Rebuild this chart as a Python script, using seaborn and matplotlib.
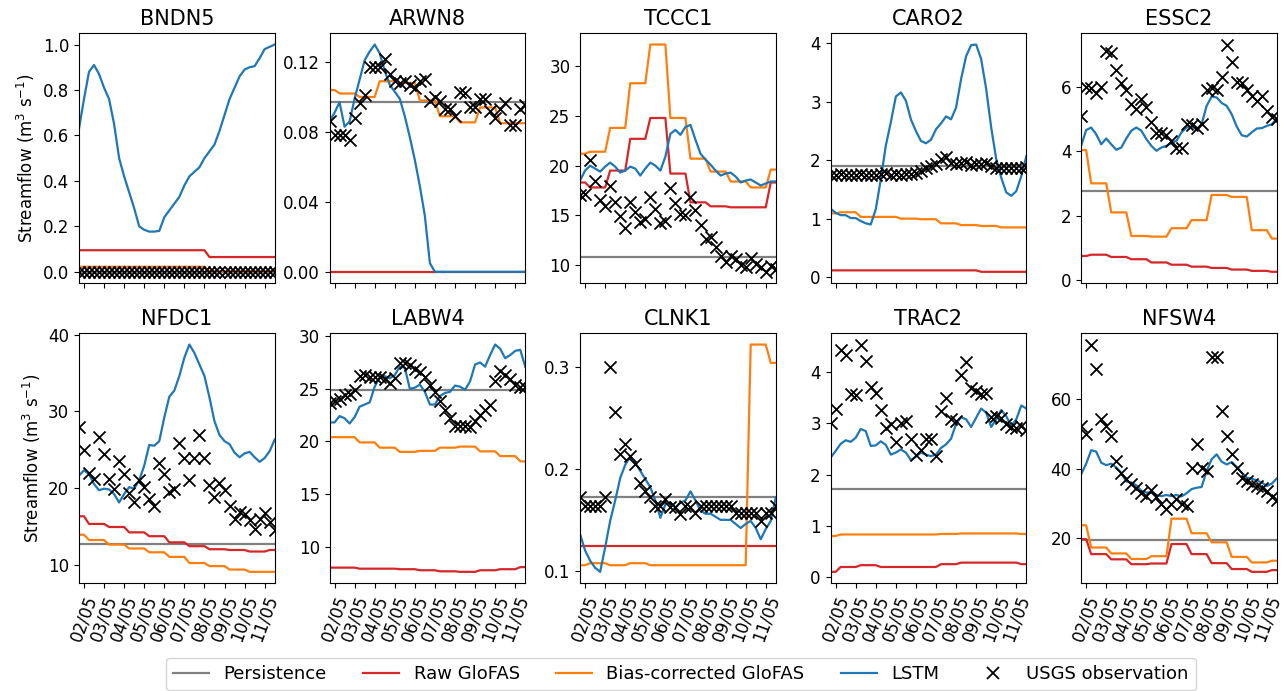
import numpy as np
import pandas as pd
import matplotlib
matplotlib.use('Agg')
import matplotlib.pyplot as plt
import matplotlib.dates as mdates
from matplotlib.lines import Line2D
import seaborn as sns

# 6-hourly forecast steps, GloFAS is daily
times = pd.date_range('2021-05-01 18:00', periods=40, freq='6h')
day_repeats = [2] + [4] * 9 + [2]

stations = ['BNDN5', 'ARWN8', 'TCCC1', 'CARO2', 'ESSC2',
            'NFDC1', 'LABW4', 'CLNK1', 'TRAC2', 'NFSW4']

# ---- BNDN5
bndn5_lstm = [0.63, 0.76, 0.88, 0.91, 0.87, 0.81, 0.76, 0.65, 0.50, 0.42, 0.35, 0.28, 0.20, 0.185, 0.177, 0.177,
              0.18, 0.24, 0.27, 0.30, 0.33, 0.38, 0.42, 0.44, 0.46, 0.50, 0.53, 0.56, 0.62, 0.69, 0.76, 0.81,
              0.86, 0.89, 0.90, 0.905, 0.94, 0.98, 0.99, 1.0]
bndn5_obs = [0.0, 0.0, 0.0, 0.0, 0.0, 0.0, 0.0, 0.0, 0.0, 0.0, 0.0, 0.0, 0.0, 0.0, 0.0, 0.0, 0.0, 0.0, 0.0, 0.0,
             0.0, 0.0, 0.0, 0.0, 0.0, 0.0, 0.0, 0.0, 0.0, 0.0, 0.0, 0.0, 0.0, 0.0, 0.0, 0.0, 0.0, 0.0, 0.0, 0.0]
bndn5_raw = [0.095, 0.095, 0.095, 0.095, 0.095, 0.095, 0.095, 0.065, 0.065, 0.065, 0.065]
bndn5_bias = [0.022, 0.022, 0.022, 0.022, 0.022, 0.022, 0.022, 0.003, 0.003, 0.003, 0.003]
bndn5_persist = 0.0

# ---- ARWN8
arwn8_lstm = [0.086, 0.091, 0.097, 0.083, 0.086, 0.099, 0.110, 0.121, 0.126, 0.130, 0.125, 0.115, 0.107, 0.103,
              0.099, 0.089, 0.077, 0.064, 0.049, 0.032, 0.005, 0.0, 0.0, 0.0, 0.0, 0.0, 0.0, 0.0, 0.0, 0.0,
              0.0, 0.0, 0.0, 0.0, 0.0, 0.0, 0.0, 0.0, 0.0, 0.0]
arwn8_obs = [0.086, 0.0785, 0.0785, 0.0785, 0.0756, 0.088, 0.0965, 0.101, 0.117, 0.117, 0.117, 0.122, 0.113,
             0.109, 0.108, 0.109, 0.107, 0.105, 0.109, 0.110, 0.0975, 0.100, 0.0975, 0.093, 0.093, 0.089, 0.103,
             0.102, 0.0945, 0.0945, 0.099, 0.099, 0.092, 0.088, 0.093, 0.0965, 0.084, 0.084, 0.093, 0.0955]
arwn8_raw = [0.0, 0.0, 0.0, 0.0, 0.0, 0.0, 0.0, 0.0, 0.0, 0.0, 0.0]
arwn8_bias = [0.104, 0.102, 0.100, 0.109, 0.108, 0.098, 0.089, 0.0855, 0.094, 0.085, 0.085]
arwn8_persist = 0.097

# ---- TCCC1
tccc1_lstm = [18.5, 19.5, 20.0, 19.7, 19.4, 19.9, 20.3, 19.9, 19.3, 19.5, 19.9, 19.7, 19.0, 19.7, 20.3, 20.0,
              19.5, 20.9, 23.2, 23.6, 23.1, 23.9, 24.1, 22.6, 21.2, 20.6, 20.1, 19.5, 19.0, 19.2, 19.3, 18.9,
              18.3, 18.5, 18.6, 18.3, 18.0, 18.2, 18.4, 18.4]
tccc1_obs = [17.0, 17.1, 20.6, 18.5, 16.5, 15.9, 17.9, 16.3, 14.9, 13.7, 16.3, 15.3, 14.3, 14.6, 16.8, 15.6,
             14.2, 14.4, 17.7, 16.2, 15.1, 15.0, 16.8, 15.5, 14.0, 12.6, 12.8, 11.8, 10.9, 10.3, 10.9, 10.6,
             10.0, 9.8, 10.7, 10.1, 9.8, 9.3, 9.9, 9.6]
tccc1_raw = [18.3, 17.8, 19.5, 22.7, 24.8, 19.2, 16.3, 15.9, 15.8, 15.8, 18.3]
tccc1_bias = [21.2, 21.4, 23.8, 28.3, 32.2, 24.8, 20.7, 19.4, 18.4, 17.8, 19.6]
tccc1_persist = 10.8

# ---- CARO2
caro2_lstm = [1.17, 1.10, 1.06, 1.06, 1.01, 1.01, 0.96, 0.92, 0.90, 1.16, 1.67, 2.25, 2.65, 3.09, 3.16, 3.02,
              2.70, 2.50, 2.33, 2.29, 2.35, 2.53, 2.63, 2.75, 2.70, 2.90, 3.39, 3.78, 3.97, 3.98, 3.73, 3.22,
              2.56, 2.02, 1.70, 1.45, 1.39, 1.47, 1.73, 2.07]
caro2_obs = [1.75, 1.74, 1.76, 1.75, 1.74, 1.75, 1.76, 1.75, 1.74, 1.75, 1.76, 1.78, 1.75, 1.76, 1.75, 1.76,
             1.76, 1.78, 1.82, 1.87, 1.90, 1.93, 2.02, 2.05, 1.96, 1.93, 1.96, 1.97, 1.91, 1.93, 1.93, 1.95,
             1.90, 1.87, 1.87, 1.87, 1.86, 1.87, 1.87, 1.88]
caro2_raw = [0.115, 0.115, 0.115, 0.115, 0.115, 0.115, 0.115, 0.115, 0.09, 0.09, 0.09]
caro2_bias = [1.09, 1.11, 1.03, 1.03, 1.00, 0.99, 0.92, 0.89, 0.875, 0.85, 0.85]
caro2_persist = 1.90

# ---- ESSC2
essc2_lstm = [4.16, 4.65, 4.73, 4.52, 4.21, 4.39, 4.21, 4.04, 4.11, 4.39, 4.63, 4.73, 4.63, 4.37, 4.16, 4.01,
              4.11, 4.16, 4.25, 4.32, 4.58, 4.73, 4.76, 4.68, 4.83, 5.40, 5.69, 5.66, 5.49, 5.40, 5.14, 4.76,
              4.49, 4.45, 4.58, 4.70, 4.71, 4.78, 4.83, 5.01]
essc2_obs = [5.1, 6.0, 5.95, 5.8, 6.0, 7.1, 7.05, 6.5, 6.1, 5.9, 5.45, 5.3, 5.6, 5.35, 4.9, 4.55, 4.55, 4.5,
             4.3, 4.1, 4.1, 4.85, 4.8, 4.7, 4.85, 5.9, 5.95, 5.9, 6.3, 7.3, 6.75, 6.15, 6.1, 5.9, 5.7, 5.55,
             5.7, 5.25, 5.05, 5.0]
essc2_raw = [0.75, 0.79, 0.72, 0.65, 0.55, 0.48, 0.42, 0.38, 0.33, 0.29, 0.26]
essc2_bias = [4.03, 3.0, 2.10, 1.37, 1.35, 1.61, 1.86, 2.64, 2.58, 1.55, 1.29]
essc2_persist = 2.77

# ---- NFDC1
nfdc1_lstm = [21.6, 22.3, 21.8, 20.5, 19.7, 19.9, 19.8, 19.2, 18.1, 19.2, 20.1, 19.9, 21.0, 22.9, 25.6, 25.5,
              26.1, 29.2, 31.9, 32.7, 34.6, 37.0, 38.7, 37.6, 36.1, 34.6, 31.8, 28.7, 26.9, 26.1, 25.7, 24.6,
              24.0, 24.5, 24.7, 24.0, 23.4, 23.9, 24.8, 26.3]
nfdc1_obs = [27.9, 24.9, 22.0, 21.2, 26.6, 24.4, 21.2, 19.8, 23.5, 21.8, 19.3, 18.1, 21.0, 20.1, 18.6, 17.6,
             23.2, 21.8, 19.4, 19.8, 25.9, 23.9, 21.0, 23.9, 26.9, 23.9, 20.4, 18.8, 20.6, 19.7, 17.7, 16.0,
             16.8, 16.6, 15.8, 14.7, 16.0, 16.7, 15.5, 14.5]
nfdc1_raw = [16.3, 15.3, 14.9, 14.2, 13.7, 12.9, 12.4, 12.0, 11.9, 11.7, 11.9]
nfdc1_bias = [13.9, 13.2, 12.6, 12.1, 11.6, 11.0, 10.2, 9.8, 9.35, 9.05, 9.05]
nfdc1_persist = 12.7

# ---- LABW4
labw4_lstm = [21.8, 21.8, 22.4, 22.2, 21.7, 22.3, 23.3, 23.5, 23.7, 25.2, 26.1, 26.2, 26.0, 26.3, 27.1, 27.0,
              25.0, 25.1, 25.4, 24.7, 23.5, 23.5, 24.3, 24.6, 24.7, 25.3, 25.2, 24.9, 25.7, 27.3, 27.5, 27.1,
              28.2, 29.2, 28.8, 27.9, 28.2, 28.6, 28.7, 27.1]
labw4_obs = [23.6, 23.8, 24.0, 24.4, 24.5, 24.9, 26.2, 26.3, 26.1, 26.1, 26.1, 25.9, 25.5, 26.0, 27.4, 27.4,
             27.3, 26.9, 26.6, 26.1, 25.4, 24.7, 23.8, 23.0, 22.2, 21.5, 21.5, 21.5, 21.4, 21.9, 22.5, 23.0,
             23.5, 25.7, 26.7, 26.3, 25.9, 25.4, 25.2, 25.2]
labw4_raw = [8.0, 8.0, 7.9, 7.9, 7.85, 7.75, 7.65, 7.6, 7.75, 7.85, 8.05]
labw4_bias = [20.4, 20.4, 19.9, 19.4, 19.0, 19.1, 19.4, 19.5, 19.05, 18.6, 18.1]
labw4_persist = 24.9

# ---- CLNK1
clnk1_lstm = [0.136, 0.120, 0.110, 0.103, 0.099, 0.123, 0.149, 0.169, 0.191, 0.204, 0.212, 0.206, 0.198, 0.190,
              0.182, 0.169, 0.152, 0.165, 0.167, 0.162, 0.167, 0.169, 0.178, 0.169, 0.159, 0.156, 0.156, 0.153,
              0.150, 0.150, 0.150, 0.146, 0.142, 0.146, 0.149, 0.142, 0.131, 0.141, 0.149, 0.172]
clnk1_obs = [0.172, 0.164, 0.164, 0.164, 0.164, 0.172, 0.300, 0.256, 0.215, 0.224, 0.213, 0.205, 0.186, 0.178,
             0.172, 0.164, 0.164, 0.170, 0.163, 0.163, 0.156, 0.164, 0.163, 0.157, 0.164, 0.164, 0.164, 0.164,
             0.164, 0.164, 0.164, 0.157, 0.157, 0.157, 0.157, 0.157, 0.149, 0.157, 0.157, 0.164]
clnk1_raw = [0.124, 0.124, 0.124, 0.124, 0.124, 0.124, 0.124, 0.124, 0.124, 0.124, 0.124]
clnk1_bias = [0.1055, 0.1075, 0.1055, 0.1075, 0.1055, 0.1055, 0.1055, 0.1055, 0.1055, 0.322, 0.304]
clnk1_persist = 0.172

# ---- TRAC2
trac2_lstm = [2.33, 2.46, 2.60, 2.67, 2.64, 2.72, 2.89, 2.85, 2.56, 2.57, 2.65, 2.58, 2.39, 2.43, 2.49, 2.43,
              2.28, 2.35, 2.43, 2.39, 2.36, 2.39, 2.52, 2.59, 2.70, 2.99, 3.12, 3.08, 2.93, 3.11, 3.29, 3.21,
              2.93, 3.08, 3.26, 3.14, 2.95, 3.08, 3.35, 3.29]
trac2_obs = [3.01, 3.29, 4.44, 4.33, 3.58, 3.56, 4.54, 4.21, 3.71, 3.60, 3.27, 2.91, 2.98, 2.64, 3.01, 3.04,
             2.69, 2.39, 2.48, 2.69, 2.69, 2.36, 3.25, 3.50, 3.08, 3.04, 3.95, 4.20, 3.69, 3.63, 3.58, 3.60,
             3.12, 3.15, 3.10, 2.99, 2.93, 2.91, 2.95, 2.88]
trac2_raw = [0.10, 0.195, 0.23, 0.195, 0.195, 0.195, 0.25, 0.28, 0.28, 0.28, 0.25]
trac2_bias = [0.80, 0.83, 0.83, 0.83, 0.83, 0.83, 0.84, 0.85, 0.85, 0.85, 0.84]
trac2_persist = 1.71

# ---- NFSW4
nfsw4_lstm = [38.5, 41.5, 45.4, 45.0, 41.8, 41.1, 41.5, 40.4, 38.9, 36.4, 36.1, 35.3, 33.7, 33.2, 33.2, 32.5,
              32.2, 32.5, 32.2, 32.5, 32.1, 33.0, 34.2, 34.6, 34.8, 39.4, 42.8, 44.2, 42.1, 41.3, 42.0, 40.6,
              38.9, 37.5, 37.2, 36.7, 36.1, 35.1, 35.8, 37.3]
nfsw4_obs = [52.3, 50.0, 75.8, 68.9, 54.3, 52.3, 49.5, 42.3, 38.7, 37.0, 35.8, 34.6, 33.2, 32.2, 33.9, 31.8,
             29.9, 28.4, 29.9, 31.3, 29.9, 29.4, 40.4, 47.1, 40.4, 39.4, 72.2, 72.2, 56.8, 49.5, 44.4, 40.4,
             37.5, 36.4, 35.6, 35.1, 34.6, 33.7, 32.0, 31.0]
nfsw4_raw = [19.8, 15.5, 14.0, 12.6, 12.8, 18.4, 15.5, 12.9, 11.2, 10.4, 10.9]
nfsw4_bias = [23.8, 17.4, 15.7, 14.1, 14.9, 25.7, 21.5, 18.9, 14.7, 13.1, 13.6]
nfsw4_persist = 19.5

# y tick positions per panel
yticks = [[0.0, 0.2, 0.4, 0.6, 0.8, 1.0], [0.0, 0.04, 0.08, 0.12], [10, 15, 20, 25, 30], [0, 1, 2, 3, 4],
          [0, 2, 4, 6], [10, 20, 30, 40], [10, 15, 20, 25, 30], [0.1, 0.2, 0.3], [0, 1, 2, 3, 4], [20, 40, 60]]

data = {
    'BNDN5': (bndn5_persist, bndn5_raw, bndn5_bias, bndn5_lstm, bndn5_obs),
    'ARWN8': (arwn8_persist, arwn8_raw, arwn8_bias, arwn8_lstm, arwn8_obs),
    'TCCC1': (tccc1_persist, tccc1_raw, tccc1_bias, tccc1_lstm, tccc1_obs),
    'CARO2': (caro2_persist, caro2_raw, caro2_bias, caro2_lstm, caro2_obs),
    'ESSC2': (essc2_persist, essc2_raw, essc2_bias, essc2_lstm, essc2_obs),
    'NFDC1': (nfdc1_persist, nfdc1_raw, nfdc1_bias, nfdc1_lstm, nfdc1_obs),
    'LABW4': (labw4_persist, labw4_raw, labw4_bias, labw4_lstm, labw4_obs),
    'CLNK1': (clnk1_persist, clnk1_raw, clnk1_bias, clnk1_lstm, clnk1_obs),
    'TRAC2': (trac2_persist, trac2_raw, trac2_bias, trac2_lstm, trac2_obs),
    'NFSW4': (nfsw4_persist, nfsw4_raw, nfsw4_bias, nfsw4_lstm, nfsw4_obs),
}

c_persist = 'grey'
c_raw = '#d62728'
c_bias = '#ff7f0e'
c_lstm = '#1f77b4'
lw = 1.6

fig, axes = plt.subplots(2, 5, figsize=(12.82, 6.91), dpi=100, sharex=True)
fig.subplots_adjust(left=0.0616, right=0.996, top=0.952, bottom=0.156, wspace=0.28, hspace=0.2)

for k, (ax, name) in enumerate(zip(axes.flat, stations)):
    persist, raw, bias, lstm, obs = data[name]
    raw_6h = np.repeat(raw, day_repeats)
    bias_6h = np.repeat(bias, day_repeats)

    ax.axhline(persist, color=c_persist, lw=lw)
    sns.lineplot(x=times, y=raw_6h, ax=ax, color=c_raw, linewidth=lw)
    sns.lineplot(x=times, y=bias_6h, ax=ax, color=c_bias, linewidth=lw)
    sns.lineplot(x=times, y=np.array(lstm), ax=ax, color=c_lstm, linewidth=lw)
    sns.scatterplot(x=times, y=np.array(obs), ax=ax, marker='x', color='black', s=75, linewidth=1.3, zorder=5)

    ax.set_xlim(times[0], times[-1])
    ax.set_yticks(yticks[k])
    ax.set_title(name, fontsize=15)
    ax.set_xlabel('')
    ax.set_ylabel('')
    ax.tick_params(axis='both', labelsize=12)
    ax.xaxis.set_major_locator(mdates.DayLocator())
    ax.xaxis.set_major_formatter(mdates.DateFormatter('%d/%m'))
    if k >= 5:
        ax.tick_params(axis='x', labelrotation=70)
    if k % 5 == 0:
        ax.set_ylabel('Streamflow (m$^3$ s$^{-1}$)', fontsize=12)

handles = [Line2D([], [], color=c_persist, lw=lw),
           Line2D([], [], color=c_raw, lw=lw),
           Line2D([], [], color=c_bias, lw=lw),
           Line2D([], [], color=c_lstm, lw=lw),
           Line2D([], [], color='black', marker='x', linestyle='', markersize=9, mew=1.3)]
labels = ['Persistence', 'Raw GloFAS', 'Bias-corrected GloFAS', 'LSTM', 'USGS observation']
fig.legend(handles, labels, loc='lower center', bbox_to_anchor=(0.531, -0.012), ncol=5, fontsize=13,
           frameon=True)

fig.savefig('out.png', dpi=100)
